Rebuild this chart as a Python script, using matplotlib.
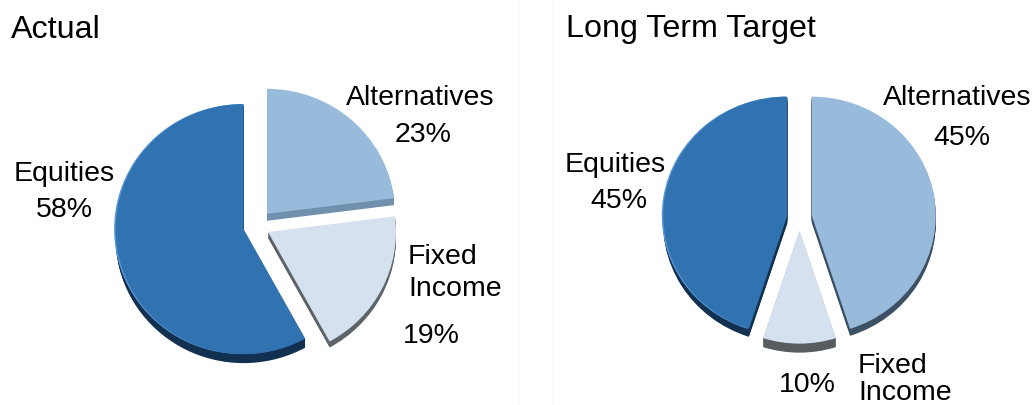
import matplotlib
matplotlib.use("Agg")
from matplotlib import pyplot as plt
from matplotlib.lines import Line2D

plt.rcParams['font.family'] = ['Liberation Sans', 'DejaVu Sans']

# order is counterclockwise from 12 o'clock
categories = ['Equities', 'Fixed Income', 'Alternatives']
actual = [58, 19, 23]
target = [45, 10, 45]
faceColors = ['#3173b0', '#d5e1ee', '#98bbdc']

W, H = 1034, 405
fig = plt.figure(figsize=(W / 100, H / 100), dpi=100)

# very faint panel seams in the reference
for seam in [519, 552]:
    fig.add_artist(Line2D([seam / W, seam / W], [0, 1], color='#f8f8f8', lw=1))


def onlySlice(i, color, n=3):
    colors = ['none'] * n
    colors[i] = color
    return colors


def drawPie(values, cx, cy, rx, ry, explode, radii, depthColors, depths):
    left = (cx - 1.5 * rx) / W
    bottom = (H - cy - 1.5 * ry) / H
    ax = fig.add_axes([left, bottom, 3 * rx / W, 3 * ry / H])
    for i in range(len(values)):
        # side of the slice, stacked going down
        for step in range(depths[i], 0, -1):
            ax.pie(values, colors=onlySlice(i, depthColors[i]), startangle=90, explode=explode,
                   center=(0, -step / ry), radius=radii[i])
        if i == 0:
            ax.pie(values, colors=onlySlice(0, '#5a97d8'), startangle=90, explode=explode,
                   center=(-1.5 / rx, 0), radius=radii[i])
        ax.pie(values, colors=onlySlice(i, faceColors[i]), startangle=90, explode=explode,
               radius=radii[i])
    ax.set_aspect('auto')
    ax.set_xlim(-1.5, 1.5)
    ax.set_ylim(-1.5, 1.5)
    ax.patch.set_alpha(0)


drawPie(actual, 256, 226, 128, 125, [0.1, 0.105, 0.13], [1, 1, 1],
        ['#12304f', '#5d6468', '#7190ae'], [9, 6, 7])
drawPie(target, 799.5, 217.5, 124, 119, [0.1, 0.11, 0.1], [1, 0.95, 1],
        ['#12304f', '#565c60', '#3d5064'], [8, 9, 7])


def label(x, y, s, size=20.5):
    fig.text(x / W, 1 - y / H, s, ha='center', va='center', fontsize=size, color='black')


fig.text(11 / W, 1 - 30 / H, 'Actual', ha='left', va='center', fontsize=23.2, color='black')
fig.text(566 / W, 1 - 29 / H, 'Long Term Target', ha='left', va='center', fontsize=23.2, color='black')

label(64, 174, categories[0])
label(64, 210, f'{actual[0]}%')
label(420, 98, categories[2])
label(423, 135, f'{actual[2]}%')
label(443, 257, 'Fixed')
label(455, 289, 'Income')
label(431, 336, f'{actual[1]}%')

label(615, 165, categories[0])
label(619, 201, f'{target[0]}%')
label(957, 98, categories[2])
label(962, 138, f'{target[2]}%')
label(893, 366, 'Fixed')
label(905, 393.5, 'Income')
label(807, 385, f'{target[1]}%')

fig.savefig('out.png', dpi=100)
